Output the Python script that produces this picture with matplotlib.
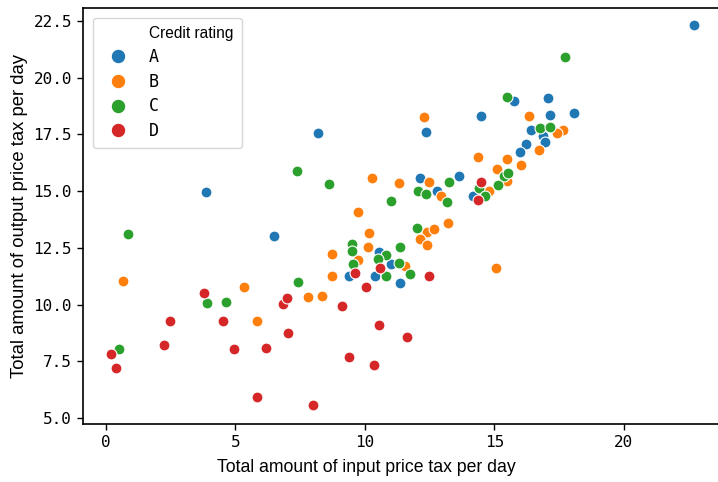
import matplotlib
matplotlib.use("Agg")
import matplotlib.pyplot as plt
from matplotlib.lines import Line2D

ratings = ["A", "B", "C", "D"]
colors = ["#1f77b4", "#ff7f0e", "#2ca02c", "#d62728"]

a_x = [22.70, 3.86, 8.19, 6.49, 12.36, 15.75, 17.07, 14.48, 17.14, 18.07, 16.41, 16.87,
       16.95, 16.22, 15.98, 14.17, 12.12, 13.63, 12.78, 10.54, 11.00, 10.39, 11.35, 9.38]
a_y = [22.32, 14.95, 17.55, 13.02, 17.62, 18.97, 19.10, 18.31, 18.36, 18.44, 17.70, 17.43,
       17.17, 17.08, 16.73, 14.79, 15.58, 15.67, 15.00, 12.32, 11.79, 11.26, 10.95, 11.26]

b_x = [12.28, 16.33, 17.64, 17.41, 16.72, 14.36, 15.48, 16.02, 15.10, 15.48, 14.79, 10.27,
       11.31, 12.47, 12.93, 9.73, 10.15, 12.39, 12.66, 13.20, 12.12, 12.39, 10.12, 11.54,
       15.06, 0.66, 5.33, 5.83, 7.80, 8.34, 8.73, 8.73, 9.73]
b_y = [18.27, 18.31, 17.70, 17.56, 16.81, 16.50, 16.42, 16.15, 15.98, 15.45, 15.00, 15.58,
       15.36, 15.40, 14.79, 14.08, 13.16, 13.20, 13.33, 13.60, 12.90, 12.63, 12.54, 11.70,
       11.61, 11.04, 10.78, 9.28, 10.34, 10.38, 12.23, 11.26, 11.95]

c_x = [17.72, 15.48, 16.76, 17.14, 15.37, 15.52, 15.13, 14.40, 14.63, 13.24, 12.05, 12.36,
       13.17, 11.00, 12.00, 10.81, 11.35, 11.31, 10.81, 11.74, 3.90, 4.63, 0.50, 7.41,
       9.50, 9.50, 9.54, 7.37, 8.61, 0.85, 10.50]
c_y = [20.91, 19.15, 17.78, 17.83, 15.67, 15.80, 15.27, 15.14, 14.79, 15.40, 15.00, 14.88,
       14.52, 14.57, 13.38, 12.19, 12.54, 11.83, 11.26, 11.35, 10.07, 10.12, 8.04, 10.99,
       12.67, 12.36, 11.79, 15.89, 15.32, 13.11, 12.00]

d_x = [14.48, 14.36, 10.58, 12.47, 10.04, 10.54, 11.62, 10.35, 3.78, 2.47, 4.52, 2.24,
       4.94, 6.18, 0.19, 0.39, 5.83, 7.99, 6.83, 6.99, 7.03, 9.11, 9.38, 9.61]
d_y = [15.40, 14.60, 11.61, 11.26, 10.78, 9.10, 8.57, 7.34, 10.51, 9.28, 9.28, 8.22,
       8.04, 8.09, 7.82, 7.21, 5.93, 5.58, 10.03, 10.30, 8.75, 9.94, 7.69, 11.39]

xs = [a_x, b_x, c_x, d_x]
ys = [a_y, b_y, c_y, d_y]

x_label = "Total amount of input price tax per day"
y_label = "Total amount of output price tax per day"
legend_title = "Credit rating"

mono = "DejaVu Sans Mono"
sans = "Liberation Sans"

fig = plt.figure(figsize=(7.18, 4.82), dpi=100)
ax = fig.add_axes([83 / 718, 58 / 482, (722 - 83) / 718, (424 - 8) / 482])

handles = []
for r, c, x, y in zip(ratings, colors, xs, ys):
    ax.scatter(x, y, s=62, color=c, edgecolor="white", linewidth=0.8, label=r, zorder=2)
    handles.append(Line2D([], [], linestyle="none", marker="o", markersize=10.5,
                          markerfacecolor=c, markeredgecolor="white", markeredgewidth=0.8))

ax.set_xlim(-0.89, 23.8)
ax.set_ylim(4.74, 23.07)
ax.set_xticks([0, 5, 10, 15, 20])
ax.set_yticks([5.0, 7.5, 10.0, 12.5, 15.0, 17.5, 20.0, 22.5])
ax.set_yticklabels(["5.0", "7.5", "10.0", "12.5", "15.0", "17.5", "20.0", "22.5"])
for lab in ax.get_xticklabels() + ax.get_yticklabels():
    lab.set_fontfamily(mono)
    lab.set_fontsize(11.5)
ax.tick_params(direction="out", length=4, width=1, pad=4)

ax.set_xlabel(x_label, fontfamily=sans, fontsize=12.7)
ax.xaxis.set_label_coords(0.444, -0.084)
ax.set_ylabel(y_label, fontfamily=sans, fontsize=13.3, labelpad=4)
for sp in ax.spines.values():
    sp.set_linewidth(1.2)

empty = Line2D([], [], linestyle="none", marker=None)
leg = ax.legend([empty] + handles, [legend_title] + ratings, loc="upper left",
                prop={"family": mono, "size": 12}, handletextpad=0.85,
                labelspacing=0.4, borderpad=0.5, borderaxespad=0.6, frameon=True)
leg.get_texts()[0].set_fontfamily(sans)
leg.get_texts()[0].set_fontsize(11.2)

fig.savefig("out.png", dpi=100)
